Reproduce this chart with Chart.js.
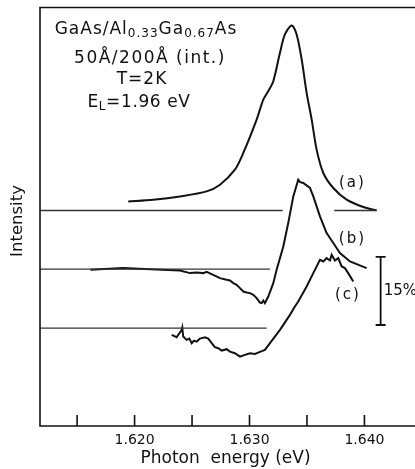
<!DOCTYPE html>
<html><head><meta charset="utf-8">
<script src="https://cdn.jsdelivr.net/npm/chart.js@4/dist/chart.umd.min.js"></script>
<style>html,body{margin:0;padding:0;background:#fff;}#wrap{width:415px;height:469px;position:relative}</style>
</head><body><div id="wrap"><canvas id="c" width="415" height="469"></canvas></div>
<script>
// ---- data (photon energy in eV, intensity in % units with vertical offsets) ----
const xRange = [1.61177, 1.64440];
const yRange = [0, 92];
const majorTicks = [1.620, 1.630, 1.640];
const minorTicks = [1.615, 1.625, 1.635];
const tickLabels = ["1.620", "1.630", "1.640"];

const curveA_x = [1.61945,1.62162,1.62395,1.62627,1.62743,1.62873,1.62946,1.63062,1.63120,1.63163,1.63207,1.63265,1.63308,1.63367,1.63410,1.63454,1.63497,1.63541,1.63584,1.63642,1.63729,1.63845,1.63990,1.64106];
const curveA_y = [49.37,49.75,50.47,51.57,53.05,56.35,60.03,67.36,71.76,73.59,75.79,82.04,86.07,88.05,86.07,80.56,73.23,67.36,60.75,55.62,52.32,49.75,48.14,47.40];

const curveB_x = [1.61616,1.61901,1.62134,1.62395,1.62482,1.62540,1.62597,1.62627,1.62684,1.62743,1.62801,1.62830,1.62859,1.62888,1.62917,1.62946,1.62975,1.63004,1.63033,1.63062,1.63091,1.63106,1.63120,1.63134,1.63163,1.63207,1.63236,1.63294,1.63337,1.63381,1.63424,1.63440,1.63468,1.63526,1.63555,1.63613,1.63671,1.63729,1.63787,1.63874,1.64019];
const curveB_y = [34.34,34.71,34.45,34.19,33.61,33.74,33.61,33.90,33.24,32.51,32.14,31.98,31.41,31.04,30.31,29.56,29.34,29.21,28.84,28.11,27.14,27.01,27.58,27.01,28.46,31.41,34.34,39.47,44.62,50.47,54.15,53.60,53.42,52.32,50.47,46.07,42.42,40.22,38.01,36.17,34.71];

const curveC_x = [1.62323,1.62366,1.62410,1.62415,1.62423,1.62453,1.62476,1.62497,1.62517,1.62540,1.62569,1.62612,1.62641,1.62671,1.62699,1.62728,1.62758,1.62801,1.62830,1.62873,1.62917,1.62960,1.63004,1.63047,1.63091,1.63134,1.63178,1.63265,1.63352,1.63395,1.63424,1.63497,1.63555,1.63613,1.63642,1.63671,1.63700,1.63715,1.63743,1.63772,1.63802,1.63830,1.63859,1.63903];
const curveC_y = [20.03,19.52,21.13,21.64,19.66,18.93,19.22,18.20,18.78,18.56,19.22,19.52,19.22,18.20,17.32,17.10,16.58,16.88,16.35,16.00,15.25,15.63,16.00,15.85,16.29,16.73,18.20,21.13,24.43,26.26,27.36,30.66,33.61,36.54,36.17,36.91,36.39,37.64,36.39,36.91,35.07,34.71,33.61,31.76];

// baselines: [xStart, xEnd, level]
const baselineA1 = [1.61177, 1.63288, 47.39];
const baselineA2 = [1.63737, 1.64106, 47.39];
const baselineB  = [1.61177, 1.63178, 34.49];
const baselineC  = [1.61177, 1.63149, 21.51];

const curveLabels = ["(a)", "(b)", "(c)"];
const curveLabelX = [1.63887, 1.63887, 1.63848];
const curveLabelY = [53.38, 41.16, 28.84];

const scaleBar = {x: 1.64141, from: 22.2, to: 37.2, label: "15%"};

// ---- build ----
const pts = (xs, ys) => xs.map((x, i) => ({x, y: ys[i]}));
const seg = b => [{x: b[0], y: b[2]}, {x: b[1], y: b[2]}];

const FONT = '"DejaVu Sans", sans-serif';

const drawPlugin = {
  id: 'deco',
  afterDraw(chart) {
    const ctx = chart.ctx, a = chart.chartArea;
    const xs = chart.scales.x, ys = chart.scales.y;
    ctx.save();
    ctx.strokeStyle = '#111';
    ctx.fillStyle = '#111';
    ctx.lineWidth = 1.6;
    // frame (top, left, bottom)
    ctx.beginPath();
    ctx.moveTo(a.right, a.top); ctx.lineTo(a.left, a.top);
    ctx.lineTo(a.left, a.bottom); ctx.lineTo(a.right, a.bottom);
    ctx.stroke();
    // inward ticks
    [...majorTicks, ...minorTicks].forEach(v => {
      const px = xs.getPixelForValue(v);
      ctx.beginPath(); ctx.moveTo(px, a.bottom); ctx.lineTo(px, a.bottom - 11); ctx.stroke();
    });
    // tick labels
    ctx.font = '14px ' + FONT;
    ctx.textAlign = 'center'; ctx.textBaseline = 'alphabetic';
    majorTicks.forEach((v, i) => ctx.fillText(tickLabels[i], xs.getPixelForValue(v), a.bottom + 18));
    // x title
    ctx.font = '17px ' + FONT;
    ctx.fillText('Photon  energy (eV)', 225.5, 463);
    // y title
    ctx.save();
    ctx.translate(22, 221); ctx.rotate(-Math.PI / 2);
    ctx.font = '16.5px ' + FONT;
    ctx.fillText('Intensity', 0, 0);
    ctx.restore();
    // curve labels
    ctx.font = '15px ' + FONT;
    ctx.textBaseline = 'middle';
    curveLabels.forEach((t, i) => {
      ctx.save(); ctx.letterSpacing = '2px';
      ctx.fillText(t, xs.getPixelForValue(curveLabelX[i]) + 1, ys.getPixelForValue(curveLabelY[i]));
      ctx.restore();
    });
    // scale bar
    const bx = xs.getPixelForValue(scaleBar.x);
    const by1 = ys.getPixelForValue(scaleBar.from), by2 = ys.getPixelForValue(scaleBar.to);
    ctx.lineWidth = 1.8;
    ctx.beginPath();
    ctx.moveTo(bx, by1); ctx.lineTo(bx, by2);
    ctx.moveTo(bx - 5, by1); ctx.lineTo(bx + 5, by1);
    ctx.moveTo(bx - 5, by2); ctx.lineTo(bx + 5, by2);
    ctx.stroke();
    ctx.textAlign = 'left';
    ctx.font = '15px ' + FONT;
    ctx.fillText(scaleBar.label, bx + 3, (by1 + by2) / 2);
    // annotation block
    ctx.textBaseline = 'alphabetic';
    const runs = (parts, cx, y, sp) => {
      ctx.letterSpacing = sp + 'px';
      let w = 0;
      parts.forEach(p => { ctx.font = p[1] + 'px ' + FONT; w += ctx.measureText(p[0]).width; });
      let x = cx - w / 2;
      ctx.textAlign = 'left';
      parts.forEach(p => {
        ctx.font = p[1] + 'px ' + FONT;
        ctx.fillText(p[0], x, y + (p[2] || 0));
        x += ctx.measureText(p[0]).width;
      });
      ctx.letterSpacing = '0px';
    };
    runs([["GaAs/Al",17],["0.33",12,3],["Ga",17],["0.67",12,3],["As",17]], 146, 34, 1);
    runs([["50Å/200Å (int.)",17]], 150, 63, 1.5);
    runs([["T=2K",17]], 142, 84, 1);
    runs([["E",17],["L",12,3],["=1.96 eV",17]], 139, 107, 0.6);
    ctx.restore();
  }
};

const lineDs = (data, w, col, t) => ({data, borderColor: col || '#111', borderWidth: w || 1.8, pointRadius: 0, tension: t || 0, fill: false});

new Chart(document.getElementById('c'), {
  type: 'line',
  data: {
    datasets: [
      lineDs(seg(baselineA1), 1.4, '#333'),
      lineDs(seg(baselineA2), 1.4, '#333'),
      lineDs(seg(baselineB), 1.4, '#333'),
      lineDs(seg(baselineC), 1.4, '#333'),
      lineDs(pts(curveA_x, curveA_y), 2, '#111', 0.3),
      lineDs(pts(curveB_x, curveB_y), 2),
      lineDs(pts(curveC_x, curveC_y), 2)
    ]
  },
  options: {
    responsive: false,
    animation: false,
    devicePixelRatio: 1,
    layout: {padding: {left: 40, top: 7.5, right: 0, bottom: 43}},
    plugins: {legend: {display: false}, tooltip: {enabled: false}},
    scales: {
      x: {type: 'linear', min: xRange[0], max: xRange[1], display: false},
      y: {min: yRange[0], max: yRange[1], display: false}
    }
  },
  plugins: [drawPlugin]
});
</script></body></html>
